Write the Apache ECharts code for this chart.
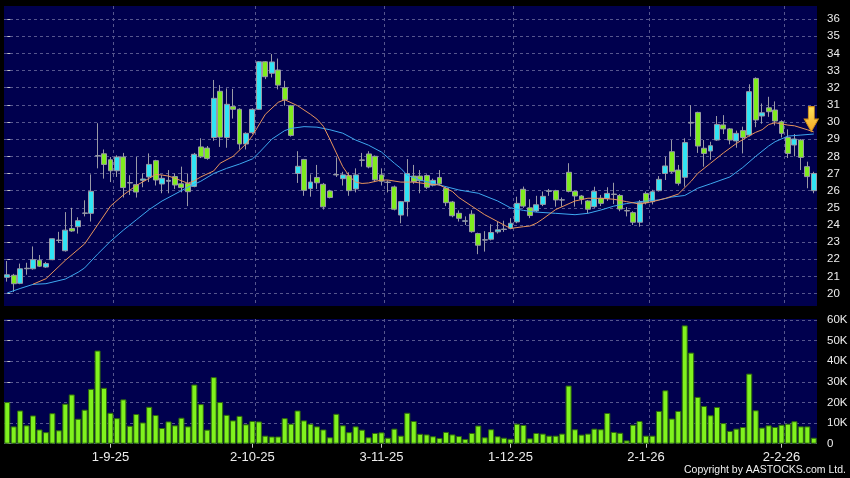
<!DOCTYPE html>
<html><head><meta charset="utf-8">
<script src="https://cdn.jsdelivr.net/npm/echarts@6/dist/echarts.min.js"></script>
<style>html,body{margin:0;padding:0;background:#000;}#c{width:850px;height:478px;}</style>
</head><body><div id="c"></div>
<script>
// Trading days per month (Aug 2025 - Feb 2026)
const tradingMonths = [
  ['8-25', [7,8,11,12,13,14,15,18,19,20,21,22,25,26,27,28,29]],
  ['9-25', [1,2,3,4,5,8,9,10,11,12,15,16,17,18,19,22,23,24,25,26,29,30]],
  ['10-25', [2,3,6,8,9,10,13,14,15,16,17,20,21,22,23,24,27,28,30,31]],
  ['11-25', [3,4,5,6,7,10,11,12,13,14,17,18,19,20,21,24,25,26,27,28]],
  ['12-25', [1,2,3,4,5,8,9,10,11,12,15,16,17,18,19,22,23,24,29,30,31]],
  ['1-26', [2,5,6,7,8,9,12,13,14,15,16,19,20,21,22,23,26,27,28,29,30]],
  ['2-26', [2,3,4,5,6]]
];
const tickLabels = ['1-9-25','2-10-25','3-11-25','1-12-25','2-1-26','2-2-26'];
const priceTicks = [20,21,22,23,24,25,26,27,28,29,30,31,32,33,34,35,36];
const volumeTicksK = [0,10,20,30,40,50,60];

const open = [20.95,21.07,20.6,21.45,21.45,21.95,21.55,21.98,23.1,22.5,
 23.8,23.9,24.68,24.68,28.02,28.15,27.8,27.16,27.96,26.45,
 26.35,26.6,26.8,27.75,26.39,26.55,26.82,26.4,26.42,26.25,
 28.55,28.48,29.1,31.79,29.1,30.9,30.74,28.72,29.38,30.74,
 33.51,32.84,33.03,32.0,30.95,27.0,27.82,26.12,26.77,26.37,
 25.98,26.92,26.7,26.88,26.1,27.77,28.14,28.0,26.92,26.5,
 26.22,24.58,25.36,26.85,26.85,26.88,26.32,26.77,26.14,25.34,
 24.68,24.22,24.63,23.5,23.12,23.17,23.6,23.74,23.81,24.18,
 26.08,25.0,24.82,25.2,25.96,26.0,25.45,27.07,25.96,25.69,
 25.4,25.07,25.56,25.55,25.78,25.72,24.84,24.72,24.16,25.84,
 25.36,26.0,27.0,28.27,27.2,26.78,29.94,30.56,28.47,28.31,
 28.95,29.83,29.6,28.9,29.5,29.24,32.54,30.35,30.83,30.7,
 30.02,29.1,28.66,28.95,27.4,26.0];
const close = [21.1,20.58,21.45,21.48,21.98,21.6,21.75,23.2,23.12,23.7,
 23.65,24.25,24.7,25.96,28.04,27.53,27.16,27.96,26.18,26.47,
 25.92,26.68,27.53,26.62,26.72,26.6,26.33,26.18,25.94,28.12,
 27.97,27.88,31.38,29.12,31.03,30.74,28.72,29.34,30.74,33.51,
 32.64,33.5,32.15,31.3,29.22,27.42,26.02,26.5,26.46,25.06,
 25.6,26.94,26.92,26.0,26.92,27.79,27.38,26.63,26.55,26.48,
 24.92,25.36,27.0,26.53,26.58,26.2,26.6,26.4,25.3,24.54,
 24.39,24.24,23.61,22.82,23.14,23.56,23.72,23.76,24.1,25.26,
 25.1,24.55,25.18,25.67,25.99,25.46,25.47,25.96,25.69,25.5,
 24.92,25.96,25.26,25.84,25.8,24.93,24.82,24.16,25.3,25.3,
 25.94,26.66,27.44,27.1,26.43,28.8,29.98,28.6,28.17,28.62,
 29.86,29.6,28.95,29.34,29.1,31.77,30.12,30.54,30.6,30.06,
 29.34,28.17,29.01,27.94,26.82,27.0];
const low = [20.7,20.1,20.55,21.1,21.4,21.55,21.5,21.95,22.95,22.45,
 23.6,23.5,24.5,24.2,27.3,26.7,26.5,26.8,25.6,25.75,
 25.6,26.2,26.5,26.3,25.85,25.85,26.1,25.9,25.1,26.2,
 27.9,27.8,28.9,28.55,28.5,30.2,28.4,28.4,29.3,30.7,
 32.5,32.6,31.9,30.95,29.15,26.45,25.7,25.65,26.1,24.9,
 25.55,26.8,26.3,25.7,25.9,27.4,27.3,26.5,26.3,25.9,
 24.85,24.1,24.5,26.4,25.85,26.1,26.25,26.3,25.1,24.45,
 24.2,24.0,23.55,22.3,22.45,23.1,23.5,23.6,23.75,24.1,
 25.0,24.4,24.75,25.1,25.7,25.07,25.07,25.9,25.07,25.2,
 24.68,25.0,25.1,25.4,25.22,24.8,24.5,24.0,23.9,25.2,
 25.2,25.95,26.62,27.0,26.3,26.23,29.15,28.2,27.4,27.8,
 28.9,29.3,28.7,28.5,28.17,29.15,29.7,29.9,30.3,29.8,
 29.1,27.9,28.0,27.2,26.14,25.85];
const high = [21.9,21.15,21.75,21.8,22.75,22.25,21.85,23.22,23.6,24.75,
 25.0,24.45,25.44,26.95,29.93,28.4,27.96,28.06,28.2,26.9,
 27.96,27.0,28.17,27.8,26.9,27.2,27.0,27.4,27.0,28.2,
 29.05,28.6,32.45,32.15,31.96,31.93,30.8,29.4,30.8,33.55,
 33.55,33.96,33.7,32.4,31.0,28.3,27.85,26.95,27.5,26.45,
 26.05,27.94,27.1,27.07,27.3,28.2,28.3,28.05,27.3,26.6,
 26.3,25.4,27.84,27.5,27.2,26.95,26.7,27.2,26.2,25.4,
 24.85,24.5,24.86,23.55,23.64,24.04,24.2,24.25,24.4,25.65,
 26.24,25.5,25.7,25.95,26.1,26.05,25.6,27.6,26.0,25.75,
 25.45,26.23,25.75,26.2,26.46,25.8,25.05,24.8,25.45,25.95,
 26.05,26.85,27.98,28.95,27.5,29.05,30.99,30.6,28.95,28.85,
 30.35,30.4,29.65,29.5,29.73,32.2,32.6,31.08,31.47,31.2,
 30.1,29.57,29.3,29.0,27.69,27.1];
const volumeK = [20.2,8.4,16.1,8.9,13.7,6.9,5.6,14.8,6.5,19.4,
 23.9,12.1,16.5,26.6,45.2,27.1,15.0,12.4,21.5,8.7,
 14.4,10.3,17.9,13.9,7.6,10.8,8.9,12.6,8.4,28.7,
 19.2,6.8,32.3,20.2,14.0,11.3,13.5,9.4,11.0,10.8,
 3.9,3.5,3.5,12.4,9.7,16.1,11.3,9.7,8.4,6.9,
 3.1,14.5,8.9,5.6,8.4,6.8,3.1,5.2,5.5,2.9,
 7.3,3.9,15.0,11.0,4.8,4.5,3.6,2.8,5.7,4.5,
 3.7,2.3,5.2,8.8,3.1,7.0,3.6,2.9,2.4,9.7,
 9.1,2.6,5.2,4.9,3.9,3.9,4.9,28.2,7.0,4.4,
 4.9,7.3,7.0,14.9,5.7,5.3,1.6,9.2,11.0,3.9,
 3.9,15.9,25.9,12.2,15.9,57.4,44.2,22.7,18.3,13.8,
 17.8,10.0,6.2,7.3,8.1,34.0,16.2,7.8,8.9,8.1,
 9.2,9.7,10.9,8.4,8.4,2.9];
// moving averages: [candle index, value]
const ma10 = [[4,20.55],[6,20.87],[9,21.94],[12,22.9],[14,24.0],[16,25.1],[18,25.75],[20,26.3],[22,26.72],[23,26.95],[24,26.91],[25,26.85],[26,26.72],[28,26.43],[29,26.58],[30,26.8],[32,27.15],[33,27.6],[35,28.0],[37,28.72],[38,29.2],[40,30.45],[42,31.15],[43,31.3],[45,30.95],[47,30.45],[48,30.17],[49,29.75],[50,29.0],[51,28.2],[52,27.4],[53,26.85],[54,26.5],[55,26.42],[56,26.45],[58,26.62],[59,26.62],[61,26.5],[63,26.5],[65,26.4],[67,26.33],[69,25.95],[70,25.6],[72,25.1],[74,24.6],[76,24.2],[78,23.8],[79,23.85],[80,23.9],[81,23.94],[82,24.1],[83,24.35],[85,24.9],[88,25.4],[90,25.56],[92,25.55],[94,25.5],[96,25.36],[98,25.22],[100,25.36],[102,25.55],[104,25.8],[106,26.55],[107,27.0],[109,27.6],[111,28.2],[113,28.75],[115,29.2],[116,29.4],[117,29.55],[118,29.85],[119,29.96],[121,29.82],[122,29.78],[124,29.55],[125,29.42]];
const ma20 = [[0,20.04],[2,20.3],[4,20.54],[6,20.58],[9,20.85],[11,21.25],[12,21.5],[14,22.3],[16,23.05],[18,23.7],[20,24.3],[22,24.9],[24,25.4],[26,25.8],[28,26.2],[30,26.55],[32,27.0],[34,27.3],[36,27.55],[38,27.85],[39,28.2],[41,29.0],[43,29.5],[44,29.63],[46,29.73],[48,29.7],[50,29.55],[52,29.35],[54,28.95],[56,28.65],[58,28.25],[60,27.6],[61,27.3],[62,26.9],[64,26.62],[67,26.33],[70,26.04],[73,25.85],[76,25.4],[78,25.0],[80,24.85],[82,24.75],[85,24.68],[88,24.6],[90,24.68],[92,24.87],[94,25.1],[96,25.25],[98,25.36],[101,25.46],[103,25.63],[105,25.72],[107,26.14],[109,26.4],[112,26.8],[114,27.35],[116,28.0],[118,28.6],[119,28.85],[121,29.18],[123,29.24],[125,29.3]];
const arrowMark = [125, 30.17];

// ---- build categories ----
const categories = [];
const monthStarts = [];
tradingMonths.forEach(([my, days], m) => {
  days.forEach((d, k) => {
    if (k === 0 && m > 0) monthStarts.push(categories.length);
    categories.push(d + '-' + my);
  });
});
const N = categories.length;
const labelText = {};
monthStarts.forEach((s, k) => { labelText[s - 1] = tickLabels[k]; });
const showLabel = (i) => labelText[i] !== undefined;
const gridX = monthStarts.map(s => s - 0.5);

const FONT = '"Liberation Sans", Arial, sans-serif';
const gridLine = {type: [3, 3], color: '#56568e', width: 1};
const NAVY = '#00004e';

const vLineAxis = (g) => ({
  type: 'value', gridIndex: g, position: 'top', min: -0.5, max: N - 0.5,
  axisLine: {show: false}, axisLabel: {show: false},
  axisTick: {show: false, customValues: gridX},
  splitLine: {show: true, lineStyle: gridLine}
});

const chart = echarts.init(document.getElementById('c'));
chart.setOption({
  backgroundColor: '#000000',
  animation: false,
  grid: [
    {left: 4, top: 6, width: 813, height: 300, show: true, backgroundColor: NAVY, borderWidth: 0, outerBoundsMode: 'none'},
    {left: 4, top: 319, width: 813, height: 124.7, show: true, backgroundColor: NAVY, borderWidth: 0, outerBoundsMode: 'none'}
  ],
  xAxis: [
    {type: 'category', gridIndex: 0, data: categories, boundaryGap: true,
     axisLine: {show: false}, axisTick: {show: false}, axisLabel: {show: false}, splitLine: {show: false}},
    {type: 'category', gridIndex: 1, data: categories, boundaryGap: true,
     axisLine: {show: false},
     axisTick: {show: true, alignWithLabel: true, interval: showLabel, length: 4, lineStyle: {color: '#c8c8c8'}},
     axisLabel: {show: true, interval: showLabel, formatter: (v, i) => labelText[i] || '', color: '#ededed', fontSize: 13, fontFamily: FONT, margin: 7},
     splitLine: {show: false}},
    vLineAxis(0),
    vLineAxis(1)
  ],
  yAxis: [
    {type: 'value', gridIndex: 0, position: 'right', offset: 4, min: 19.28, max: 36.76,
     axisLine: {show: false},
     axisTick: {show: true, customValues: priceTicks, length: 3, lineStyle: {color: '#c8c8c8'}},
     axisLabel: {show: true, customValues: priceTicks, color: '#ededed', fontSize: 11.5, fontFamily: FONT, margin: 6},
     splitLine: {show: true, lineStyle: gridLine}},
    {type: 'value', gridIndex: 1, position: 'right', offset: 4, min: 0, max: 60.5,
     axisLine: {show: false},
     axisTick: {show: true, customValues: volumeTicksK, length: 3, lineStyle: {color: '#c8c8c8'}},
     axisLabel: {show: true, customValues: volumeTicksK, color: '#ededed', fontSize: 11.5, fontFamily: FONT, margin: 6,
                 formatter: (v) => v === 0 ? '0' : v + 'K'},
     splitLine: {show: true, lineStyle: gridLine}}
  ],
  series: [
    {type: 'candlestick', xAxisIndex: 0, yAxisIndex: 0, barWidth: 5.4,
     data: categories.map((_, i) => [open[i], close[i], low[i], high[i]]),
     itemStyle: {color: '#30e4f4', color0: '#7fec1e', borderColor: '#9a9aa6', borderColor0: '#9a9aa6', borderColorDoji: '#a8a8b0', borderWidth: 1},
     markPoint: {
       symbol: 'path://M4,0L10,0L10,12L14,12L7,24L0,12L4,12Z',
       symbolSize: [14, 25], symbolOffset: [-2.5, 0], label: {show: false},
       itemStyle: {
         color: {type: 'linear', x: 0, y: 0, x2: 0, y2: 1,
                 colorStops: [{offset: 0, color: '#ffe45a'}, {offset: 1, color: '#f5a623'}]},
         borderColor: '#d4901a', borderWidth: 1},
       data: [{coord: [categories[arrowMark[0]], arrowMark[1]]}]
     }},
    {type: 'line', xAxisIndex: 0, yAxisIndex: 0, data: ma20, showSymbol: false, symbol: 'none',
     lineStyle: {color: '#3ea8f0', width: 1}, z: 3},
    {type: 'line', xAxisIndex: 0, yAxisIndex: 0, data: ma10, showSymbol: false, symbol: 'none',
     lineStyle: {color: '#e8955c', width: 1}, z: 3},
    {type: 'bar', xAxisIndex: 1, yAxisIndex: 1, barWidth: 6, data: volumeK,
     itemStyle: {color: '#80f21e', borderColor: '#2f6a0c', borderWidth: 1}}
  ],
  graphic: [
    {type: 'text', right: 4, bottom: 2,
     style: {text: 'Copyright by AASTOCKS.com Ltd.', fill: '#f0f0f0', fontSize: 10.5, fontFamily: FONT}}
  ]
});
</script>
</body></html>
